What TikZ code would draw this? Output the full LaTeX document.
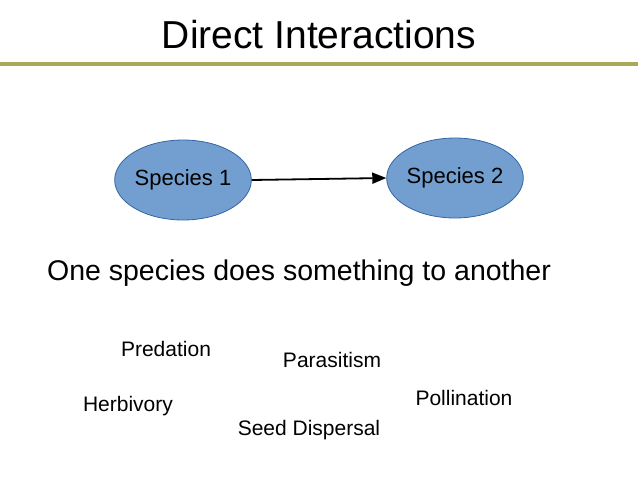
\documentclass[tikz,border=0pt]{standalone}
\usepackage{fontspec}
\setmainfont{Liberation Sans}
\usetikzlibrary{shapes.geometric,arrows.meta}
\definecolor{olive}{HTML}{A9A957}
\definecolor{sfill}{HTML}{729FCF}
\definecolor{sdraw}{HTML}{3465A4}
\begin{document}
\begin{tikzpicture}[x=1pt,y=-1pt,
  species/.style={ellipse,fill=sfill,draw=sdraw,line width=0.8pt,minimum width=130pt,minimum height=80pt,inner sep=0pt,font=\fontsize{22}{26}\selectfont},
  lbl/.style={font=\fontsize{21}{25}\selectfont}]
\useasboundingbox (0,0) rectangle (638,479);
\node[font=\fontsize{39}{46}\selectfont] (title) at (319,35) {Direct Interactions};
\draw[olive,line width=3.5pt] (0,64) -- (638,64);
\node[species] (s1) at (183,180) {Species 1};
\node[species,minimum width=132pt] (s2) at (455,178) {Species 2};
\draw[line width=1.8pt,-{Triangle[length=14pt,width=11pt]}] (s1.east) -- (s2.west);
\node[font=\fontsize{28.5}{34}\selectfont] (main) at (299,273) {One species does something to another};
\node[lbl] (pred) at (166,349) {Predation};
\node[lbl] (para) at (332,360) {Parasitism};
\node[lbl] (herb) at (128,406) {Herbivory};
\node[lbl] (poll) at (464,398) {Pollination};
\node[lbl] (seed) at (309,430) {Seed Dispersal};
\end{tikzpicture}
\end{document}
